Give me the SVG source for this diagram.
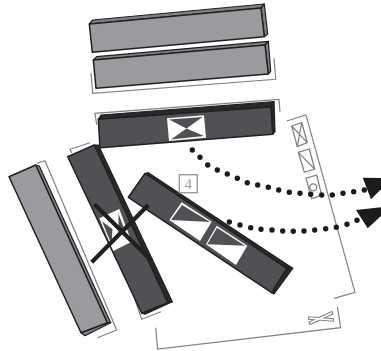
<svg xmlns="http://www.w3.org/2000/svg" width="381" height="351" viewBox="0 0 381 351">
<style>
.lt{fill:#9a9b9f;stroke:#231f20;stroke-width:1.5;stroke-linejoin:round}
.lts{fill:#808185;stroke:#231f20;stroke-width:1.2;stroke-linejoin:round}
.dk{fill:#505155;stroke:#231f20;stroke-width:1.5;stroke-linejoin:round}
.blk{fill:#2b2829;stroke:#231f20;stroke-width:1.2;stroke-linejoin:round}
.w{fill:#fff}
.wl{fill:#505155;stroke:#fff;stroke-width:1}
.br{fill:none;stroke:#808285;stroke-width:1.2}
.ic{fill:#fff;stroke:#808285;stroke-width:1.3}
.dots{fill:none;stroke:#1c1a1b;stroke-width:5.4;stroke-linecap:round}
.x{fill:none;stroke:#231f20;stroke-width:4.2}
</style>
<g id="bracket-outer"><path class="br" d="M286.7 121L306 115L355 292.3L334.3 298.3"/><path class="br" d="M155.7 327.7L157.7 349L340.7 327.7L337.3 306.7"/></g>
<g id="bar-1"><polygon class="lts" points="89.3,24 92.7,20 264.3,4 261,8"/><polygon class="lts" points="261,8 264.3,4 267.7,34 264.3,36.7"/><polygon class="lt" points="89.3,24 261,8 264.3,36.7 92.3,52.3"/></g>
<g id="bar-2"><polyline class="br" points="91,72.7 92.7,93.3 275.7,79.3 274,58.3"/><polygon class="lts" points="93.3,60 96.7,56.7 268.3,41.3 265,45"/><polygon class="lts" points="265,45 268.3,41.3 270.7,71.3 268.3,74"/><polygon class="lt" points="93.3,60 265,45 268.3,74 96,88.3"/></g>
<g id="bar-3"><polyline class="br" points="96.7,125 95,113.3 279,99.3 280,111.7"/><polygon class="blk" points="98.3,119.3 101,115 274,101.7 271,107"/><polygon class="blk" points="271,107 274,101.7 275,131.7 272.7,134.3"/><polygon class="dk" points="98.3,119.3 271,107 272.7,134.3 100,147.7"/><polygon class="w" points="167,118.3 204,115.3 206,137.7 169,141"/><polygon class="dk" style="stroke:none" points="169,119.5 202.5,117 186.5,128.5"/><polygon class="dk" style="stroke:none" points="171,139.5 204,136 186.5,128.5"/></g>
<g id="bar-left"><polyline class="br" points="36.7,163.3 45,160.7 116.7,330 97.3,337.7"/><polygon class="lts" points="35.7,165 39.3,166 110.7,322.7 107.3,322.7"/><polygon class="lts" points="81,332.7 85,335.7 110.7,322.7 107.3,322.7"/><polygon class="lt" points="9,176.7 35.7,165 107.3,322.7 81,332.7"/></g>
<g id="bar-mid"><polyline class="br" points="71.7,153 70,149.3 90,142.7"/><polyline class="br" points="135,300 141.7,319.3 161,311.7"/><polygon class="blk" points="94.3,145 98.3,145 172.3,301.7 167.7,302.7"/><polygon class="blk" points="141.7,313.3 145,314.3 172.3,301.7 167.7,302.7"/><polygon class="dk" points="67.7,156.7 94.3,145 167.7,302.7 141.7,313.3"/><polygon class="w" points="99.3,218.3 119.3,209 131.7,241.7 113.3,251"/><polygon class="wl" points="101,220 113,229 112,247"/><polygon class="wl" points="118,211 129,240 118,232"/></g>
<g id="bar-4"><polygon class="blk" points="145,173.5 148.3,172.7 292.7,268.3 286.7,268.3"/><polygon class="blk" points="286.7,268.3 292.7,268.3 274,294 271.7,292.7"/><polygon class="dk" points="128.3,197.3 145,173.5 286.7,268.3 271.7,292.7"/><polygon class="w" points="181.7,202.3 211.7,221.7 200,241 169.3,220"/><polygon class="dk" style="stroke:none" points="182,205 171,220 210,222"/><polygon class="w" points="216.7,225.7 247.3,245.7 236,265 206,244.3"/><polygon class="dk" style="stroke:none" points="217,227.7 207.3,244.3 245,245.7"/></g>
<g id="label-4"><rect x="179.3" y="174.7" width="18" height="18" fill="#fff" stroke="#9a9b9f" stroke-width="1.4"/><text x="188.3" y="189" font-family="Liberation Serif, serif" font-size="15" fill="#9a9b9f" text-anchor="middle">4</text></g>
<g id="cross"><path class="x" d="M94.3 204.3L151.7 260.7M91.7 262.3L148.3 205"/></g>
<g id="icon-1"><polygon class="ic" points="291.7,126 301.7,122.7 307.3,142.7 297.3,146.7"/><path class="br" d="M291.7 126L307.3 142.7M301.7 122.7L297.3 146.7"/></g>
<g id="icon-2"><polygon class="ic" points="298.3,152.3 309.3,149 314.7,169 304.3,172.3"/><path class="br" d="M298.3 152.3L314.7 169"/></g>
<g id="icon-3"><polygon class="ic" points="306,178.3 316.7,175 321.7,195 311.7,198.7"/><circle class="ic" cx="313.3" cy="187.3" r="3.5"/></g>
<g id="icon-4"><path fill="none" stroke="#808285" stroke-width="3.6" d="M308 318L334 320M333 312.500L309 323.500"/><path fill="none" stroke="#fff" stroke-width="1.4" d="M309 318L333 320M332 313L310 323"/></g>
<g id="connectors"><path class="dots" d="M192.3 150h0M200 157.3h0M207.7 165h0M217.3 170h0M227.3 174h0M237.3 178.3h0M247.3 182.7h0M257.7 185h0M268.3 187.3h0M278.7 190h0M289.3 192.3h0M300 193.3h0M310.7 194.3h0M321.7 195h0M332.3 195h0M343 193.3h0M353.7 191.7h0M364.3 190h0"/><polygon fill="#1c1a1b" points="362.7,177.7 392,178 371,199.300"/><path class="dots" d="M229.3 222h0M240 225h0M250.7 227.7h0M261 229.3h0M272 230h0M282.7 231h0M293.3 231.3h0M304 231h0M314.7 230h0M325.7 228.7h0M336.3 227.3h0M347 224.3h0M357 220.3h0"/><polygon fill="#1c1a1b" points="356,210 392,206 367.7,228.3"/></g>
</svg>
